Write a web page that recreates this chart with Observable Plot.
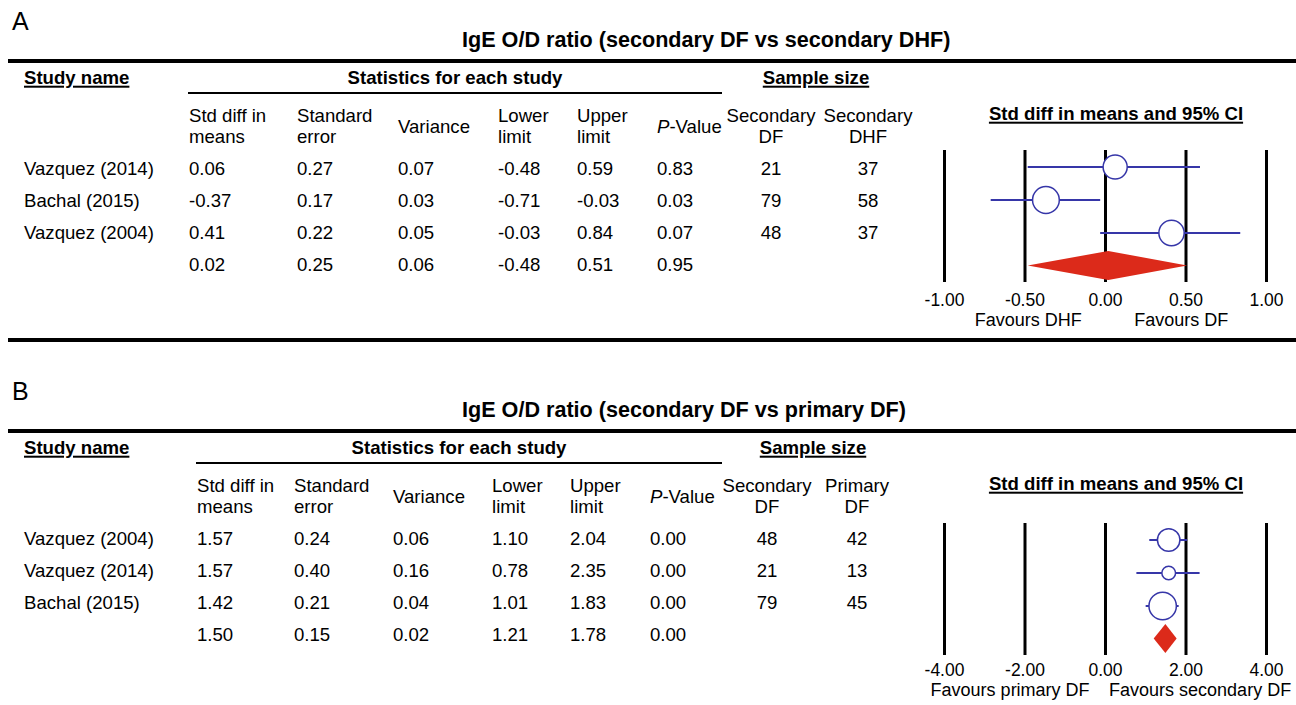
<!DOCTYPE html>
<html><head><meta charset="utf-8">
<script src="https://cdn.jsdelivr.net/npm/d3@7"></script>
<script src="https://cdn.jsdelivr.net/npm/@observablehq/plot@0.6"></script>
<style>
body{margin:0;background:#fff;}
#root{position:relative;width:1296px;height:705px;font-family:"Liberation Sans",Arial,sans-serif;color:#000;overflow:hidden;background:#fff;}
.t{position:absolute;white-space:nowrap;line-height:1;}
.hr{position:absolute;background:#000;}
.u{text-decoration:underline;text-decoration-thickness:1.5px;text-underline-offset:2px;}
.fp{position:absolute;}
</style></head><body><div id="root"></div>
<script>
// ---------- Panel A data ----------
const studiesA = ["Vazquez (2014)", "Bachal (2015)", "Vazquez (2004)", ""];
const smdA = [0.06, -0.37, 0.41, 0.02];
const seA = [0.27, 0.17, 0.22, 0.25];
const varA = [0.07, 0.03, 0.05, 0.06];
const lowerA = [-0.48, -0.71, -0.03, -0.48];
const upperA = [0.59, -0.03, 0.84, 0.51];
const pA = [0.83, 0.03, 0.07, 0.95];
const nSecDF_A = [21, 79, 48];
const nSecDHF_A = [37, 58, 37];
const weightA = [30, 37, 33];          // relative weight (%)
const ticksA = [-1, -0.5, 0, 0.5, 1];
const favoursA = [{text: "Favours DHF", at: -0.48}, {text: "Favours DF", at: 0.47}];

// ---------- Panel B data ----------
const studiesB = ["Vazquez (2004)", "Vazquez (2014)", "Bachal (2015)", ""];
const smdB = [1.57, 1.57, 1.42, 1.50];
const seB = [0.24, 0.40, 0.21, 0.15];
const varB = [0.06, 0.16, 0.04, 0.02];
const lowerB = [1.10, 0.78, 1.01, 1.21];
const upperB = [2.04, 2.35, 1.83, 1.78];
const pB = [0.00, 0.00, 0.00, 0.00];
const nSecDF_B = [48, 21, 79];
const nPrimDF_B = [42, 13, 45];
const weightB = [35, 13, 52];
const ticksB = [-4, -2, 0, 2, 4];
const favoursB = [{text: "Favours primary DF", at: -2.37}, {text: "Favours secondary DF", at: 2.35}];

const BLUE = "#3636a8", RED = "#dc2a1a";
const FS = 18.6;
const root = document.getElementById("root");
const f2 = d => (+d).toFixed(2);

function txt(html, x, y, o = {}) {
  const d = document.createElement("div");
  d.className = "t" + (o.underline ? " u" : "");
  d.innerHTML = html;
  d.style.left = x + "px";
  d.style.top = y + "px";
  d.style.fontSize = (o.size || FS) + "px";
  if (o.bold) d.style.fontWeight = "bold";
  if (o.lh) d.style.lineHeight = o.lh + "px";
  const a = o.anchor || "start";
  d.style.textAlign = a === "middle" ? "center" : "left";
  d.style.transform = `translate(${a === "middle" ? "-50%" : "0"},-50%)`;
  root.appendChild(d);
}
function hr(x, y, w, h) {
  const d = document.createElement("div");
  d.className = "hr";
  d.style.left = x + "px"; d.style.top = (y - h / 2) + "px";
  d.style.width = w + "px"; d.style.height = h + "px";
  root.appendChild(d);
}

function forest(cfg) {
  const rows = cfg.smd.map((d, i) => ({i, smd: d, lo: cfg.lower[i], hi: cfg.upper[i], w: cfg.weight[i]}));
  const studies = rows.slice(0, 3);
  const s = rows[3];
  const h = 0.44;
  const diamond = [
    {y: 3 - h, x1: s.smd, x2: s.smd},
    {y: 3, x1: s.lo, x2: s.hi},
    {y: 3 + h, x1: s.smd, x2: s.smd}
  ];
  return Plot.plot({
    width: 396, height: 200,
    marginLeft: 44, marginRight: 30, marginTop: 10, marginBottom: 58,
    x: {domain: [cfg.ticks[0], cfg.ticks[cfg.ticks.length - 1]], label: null},
    y: {domain: [-0.5, 3.5], range: [10, 142], axis: null},
    r: {type: "sqrt", domain: [0, 100], range: [0, cfg.rMax]},
    style: {fontFamily: '"Liberation Sans",Arial,sans-serif', color: "#000", background: "transparent", overflow: "visible"},
    marks: [
      Plot.ruleX(cfg.ticks, {x: d => d, y1: -0.5, y2: 3.5, stroke: "#000", strokeWidth: 3}),
      Plot.ruleY(studies, {y: "i", x1: "lo", x2: "hi", stroke: BLUE, strokeWidth: 2}),
      Plot.dot(studies, {x: "smd", y: "i", r: "w", fill: "#fff", stroke: BLUE, strokeWidth: 1.5}),
      Plot.areaX(diamond, {y: "y", x1: "x1", x2: "x2", fill: RED}),
      Plot.axisX({ticks: cfg.ticks, tickFormat: f2, tickSize: 0, tickPadding: cfg.tickPad, fontSize: 17.5, label: null}),
      Plot.text(cfg.favours, {x: "at", text: "text", frameAnchor: "bottom", dy: cfg.favDy, fontSize: 18, lineAnchor: "middle"})
    ]
  });
}

function panel(cfg) {
  const oy = cfg.oy;
  txt(cfg.label, 12, oy + 21, {size: 25});
  txt(cfg.title, 462, oy + 40, {size: 21.6, bold: true});
  hr(8, oy + 61, 1288, 4);
  txt("Study name", 24, oy + 78, {bold: true, underline: true});
  txt("Statistics for each study", cfg.statsCenter, oy + 78, {bold: true, anchor: "middle"});
  hr(cfg.statsLine[0], oy + 93, cfg.statsLine[1] - cfg.statsLine[0], 2);
  txt("Sample size", cfg.sampleCenter, oy + 78, {bold: true, underline: true, anchor: "middle"});
  txt("Std diff in means and 95% CI", 1116, oy + 114, {bold: true, underline: true, anchor: "middle"});
  const heads = ["Std diff in<br>means", "Standard<br>error", "Variance", "Lower<br>limit", "Upper<br>limit", "<i>P</i>-Value"];
  heads.forEach((hd, j) => txt(hd, cfg.cols[j], oy + 126, {lh: 21}));
  cfg.nHeads.forEach((hd, j) => txt(hd, cfg.nCols[j], oy + 126, {lh: 21, anchor: "middle"}));
  const cols = [cfg.smd, cfg.se, cfg.var, cfg.lower, cfg.upper, cfg.p];
  const rowY = i => oy + 169 + i * 32;
  cfg.studies.forEach((name, i) => {
    if (name) txt(name, 24, rowY(i));
    cols.forEach((c, j) => txt(f2(c[i]), cfg.cols[j], rowY(i)));
  });
  cfg.n1.forEach((n, i) => txt(String(n), cfg.nCols[0], rowY(i), {anchor: "middle"}));
  cfg.n2.forEach((n, i) => txt(String(n), cfg.nCols[1], rowY(i), {anchor: "middle"}));
  const svg = forest(cfg);
  const wrap = document.createElement("div");
  wrap.className = "fp";
  wrap.style.left = "900px";
  wrap.style.top = (oy + 140 + cfg.fpShift) + "px";
  wrap.appendChild(svg);
  root.appendChild(wrap);
}

panel({
  oy: 0, label: "A", title: "IgE O/D ratio (secondary DF vs secondary DHF)",
  statsCenter: 455, statsLine: [188, 722], sampleCenter: 816,
  cols: [189, 297, 398, 498, 577, 657], nCols: [771, 868],
  nHeads: ["Secondary<br>DF", "Secondary<br>DHF"],
  studies: studiesA, smd: smdA, se: seA, var: varA, lower: lowerA, upper: upperA, p: pA,
  n1: nSecDF_A, n2: nSecDHF_A, weight: weightA, ticks: ticksA, favours: favoursA,
  tickPad: 11, favDy: 38, fpShift: 0, rMax: 22
});
hr(8, 340, 1288, 4);
panel({
  oy: 370, label: "B", title: "IgE O/D ratio (secondary DF vs primary DF)",
  statsCenter: 459, statsLine: [196, 722], sampleCenter: 813,
  cols: [197, 294, 393, 492, 570, 650], nCols: [767, 857],
  nHeads: ["Secondary<br>DF", "Primary<br>DF"],
  studies: studiesB, smd: smdB, se: seB, var: varB, lower: lowerB, upper: upperB, p: pB,
  n1: nSecDF_B, n2: nPrimDF_B, weight: weightB, ticks: ticksB, favours: favoursB,
  tickPad: 8, favDy: 35, fpShift: 3, rMax: 19
});
</script></body></html>
